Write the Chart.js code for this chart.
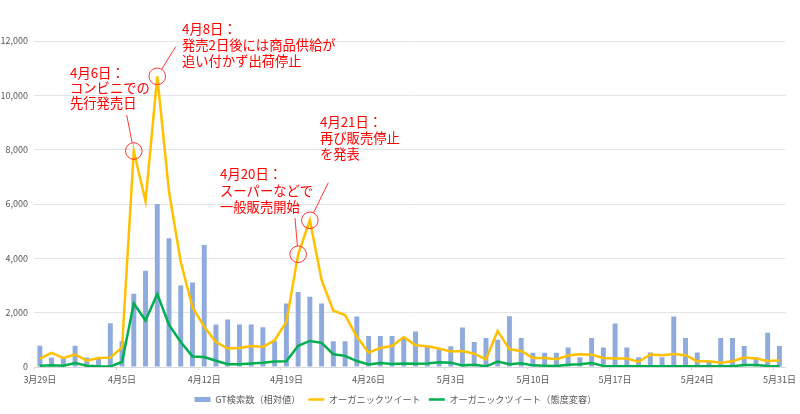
<!DOCTYPE html>
<html>
<head>
<meta charset="utf-8">
<script src="https://cdn.jsdelivr.net/npm/chart.js@4"></script>
<style>
  html, body { margin: 0; padding: 0; background: #fff; }
</style>
</head>
<body>
<canvas id="trendChart" width="800" height="414"></canvas>
<script>
// 日付ラベル 3/29〜5/31
var months = [[3, 29, 31], [4, 1, 30], [5, 1, 31]];
var dates = [];
months.forEach(function(m) {
    for (var d = m[1]; d <= m[2]; d++) dates.push(m[0] + '月' + d + '日');
});

var seriesNames = ['GT検索数（相対値）', 'オーガニックツイート', 'オーガニックツイート（態度変容）'];

var gtSearch = [
    780, 350, 350, 780, 350, 350, 1610, 950, 2700, 3540,
    6000, 4740, 3000, 3110, 4490, 1560, 1750, 1560, 1560, 1460,
    950, 2340, 2760, 2590, 2340, 950, 950, 1860, 1145, 1145,
    1145, 1090, 1310, 750, 700, 760, 1450, 920, 1070, 1000,
    1870, 1070, 525, 525, 525, 715, 360, 1070, 715, 1600,
    715, 360, 530, 360, 1855, 1070, 530, 180, 1070, 1070,
    775, 360, 1265, 775
];
var organic = [
    310, 520, 330, 460, 235, 330, 345, 720, 7950, 6100,
    10700, 6460, 3870, 2200, 1480, 920, 680, 700, 775, 740,
    985, 1660, 4150, 5400, 3200, 2070, 1910, 1110, 530, 700,
    775, 1100, 800, 765, 680, 570, 590, 490, 285, 1330,
    650, 590, 335, 335, 290, 425, 470, 455, 330, 310,
    310, 195, 460, 435, 480, 435, 215, 215, 160, 215,
    345, 310, 220, 235
];
var attitude = [
    50, 60, 50, 150, 50, 30, 20, 185, 2340, 1710,
    2690, 1550, 920, 390, 370, 230, 100, 100, 130, 160,
    200, 210, 780, 960, 890, 470, 410, 220, 90, 150,
    110, 130, 120, 130, 175, 160, 60, 80, 25, 200,
    100, 135, 60, 45, 35, 80, 100, 150, 40, 30,
    30, 30, 30, 30, 30, 30, 30, 30, 30, 30,
    70, 70, 40, 30
];

var FONT = '"Noto Sans CJK JP", "Noto Sans", sans-serif';

// 吹き出し注記（idx はデータの位置）
var notes = [
    { idx: 8,  lines: ['4月6日：', 'コンビニでの', '先行発売日'], tx: 70, ty: 73, lh: 15, from: [126.7, 115] },
    { idx: 10, lines: ['4月8日：', '発売2日後には商品供給が', '追い付かず出荷停止'], tx: 182, ty: 29, lh: 16, from: [175.7, 46.7] },
    { idx: 22, lines: ['4月20日：', 'スーパーなどで', '一般販売開始'], tx: 220, ty: 174, lh: 16.5, from: [295, 218] },
    { idx: 23, lines: ['4月21日：', '再び販売停止', 'を発表'], tx: 320, ty: 121.5, lh: 16.3, from: [328.3, 182.7] }
];

var calloutPlugin = {
    id: 'callouts',
    afterDatasetsDraw: function(chart) {
        var ctx = chart.ctx, xs = chart.scales.x, ys = chart.scales.y;
        var r = 8.3;
        ctx.save();
        ctx.strokeStyle = '#ff2020';
        ctx.fillStyle = '#ff0000';
        ctx.lineWidth = 0.9;
        ctx.font = '13.3px ' + FONT;
        ctx.textBaseline = 'middle';
        notes.forEach(function(n) {
            var cx = xs.getPixelForValue(n.idx), cy = ys.getPixelForValue(organic[n.idx]);
            ctx.beginPath();
            ctx.arc(cx, cy, r, 0, Math.PI * 2);
            ctx.stroke();
            var dx = n.from[0] - cx, dy = n.from[1] - cy, d = Math.sqrt(dx * dx + dy * dy);
            ctx.beginPath();
            ctx.moveTo(n.from[0], n.from[1]);
            ctx.lineTo(cx + dx / d * r, cy + dy / d * r);
            ctx.stroke();
            n.lines.forEach(function(t, k) {
                ctx.fillText(t, n.tx, n.ty + k * n.lh);
            });
        });
        ctx.restore();
    }
};

var ctx = document.getElementById('trendChart').getContext('2d');
var trendChart = new Chart(ctx, {
    type: 'bar',
    data: {
        labels: dates,
        datasets: [{
            type: 'bar',
            label: seriesNames[0],
            data: gtSearch,
            backgroundColor: '#8faadc',
            borderWidth: 0,
            barPercentage: 0.42,
            categoryPercentage: 1,
            pointStyle: 'rect',
            order: 3
        }, {
            type: 'line',
            label: seriesNames[1],
            data: organic,
            borderColor: '#ffc000',
            backgroundColor: '#ffc000',
            borderWidth: 2.5,
            pointRadius: 0,
            pointStyle: 'line',
            pointBorderColor: '#ffc000',
            pointBorderWidth: 2.5,
            tension: 0,
            order: 2
        }, {
            type: 'line',
            label: seriesNames[2],
            data: attitude,
            borderColor: '#00b050',
            backgroundColor: '#00b050',
            borderWidth: 2.5,
            pointRadius: 0,
            pointStyle: 'line',
            pointBorderColor: '#00b050',
            pointBorderWidth: 2.5,
            tension: 0,
            order: 1
        }]
    },
    options: {
        responsive: false,
        animation: false,
        layout: { padding: { top: 41, right: 9, left: 0, bottom: 0 } },
        plugins: {
            tooltip: { enabled: false },
            legend: {
                position: 'bottom',
                labels: {
                    usePointStyle: true,
                    pointStyleWidth: 16,
                    boxHeight: 5,
                    padding: 8,
                    color: '#595959',
                    font: { size: 9.2, family: FONT },
                    sort: function(a, b) { return a.datasetIndex - b.datasetIndex; }
                }
            }
        },
        scales: {
            x: {
                offset: true,
                grid: {
                    offset: true,
                    drawOnChartArea: false,
                    tickLength: 3,
                    color: function(c) { return c.index % 7 === 0 ? '#d9d9d9' : 'rgba(0,0,0,0)'; }
                },
                border: { color: '#d9d9d9' },
                ticks: {
                    autoSkip: false,
                    maxRotation: 0,
                    padding: 4,
                    color: '#595959',
                    font: { size: 9, family: FONT },
                    callback: function(v, i) { return i % 7 === 0 ? this.getLabelForValue(v) : ''; }
                },
                afterFit: function(s) { s.height = 19.8; }
            },
            y: {
                min: 0,
                max: 12000,
                ticks: {
                    stepSize: 2000,
                    padding: 6,
                    color: '#595959',
                    font: { size: 9, family: FONT },
                    callback: function(v) { return v.toLocaleString('en-US'); }
                },
                grid: { color: '#e4e4e4', drawTicks: false },
                border: { display: false },
                afterFit: function(s) { s.width = 34; }
            }
        }
    },
    plugins: [calloutPlugin]
});
</script>
</body>
</html>
